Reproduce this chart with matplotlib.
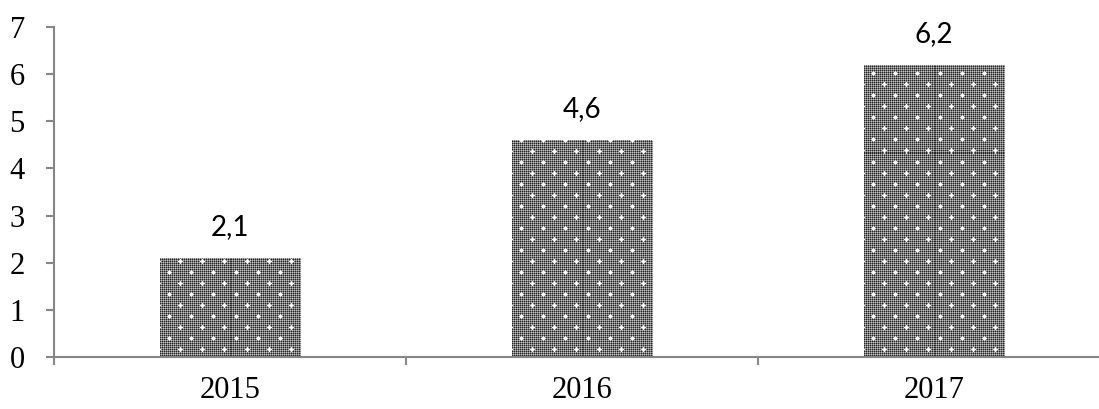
import matplotlib
matplotlib.use("Agg")
import matplotlib.pyplot as plt
import numpy as np

years = ["2015", "2016", "2017"]
values = [2.1, 4.6, 6.2]
value_labels = ["2,1", "4,6", "6,2"]
y_ticks = [0, 1, 2, 3, 4, 5, 6, 7]

axis_gray = "#868686"
W_PX, H_PX = 1099, 409
ax_left, ax_bottom, ax_w, ax_h = 54, 52, 1056, 330


def dotted_texture(h, w):
    """Fine dark/light checker with a staggered grid of small white stars."""
    r = np.arange(h)[:, None]
    c = np.arange(w)[None, :]
    tex = np.full((h, w), 0.48)
    tex[((r % 2) == 0) & ((c % 2) == 0)] = 0.15
    tex[((r % 2) == 1) & ((c % 2) == 1)] = 0.75
    step_r, step_c = 11, 22
    for row in range(3, h, step_r):
        shift = 0 if (row // step_r) % 2 == 0 else step_c // 2
        for col in range(5 + shift, w, step_c):
            for dr, dc, val in [(0, 0, 1.0), (-1, 0, 1.0), (1, 0, 1.0),
                                (0, -1, 1.0), (0, 1, 1.0),
                                (-2, 0, 0.92), (2, 0, 0.92),
                                (0, -2, 0.92), (0, 2, 0.92),
                                (-1, -1, 0.88), (-1, 1, 0.88),
                                (1, -1, 0.88), (1, 1, 0.88)]:
                rr, cc = row + dr, col + dc
                if 0 <= rr < h and 0 <= cc < w:
                    tex[rr, cc] = max(tex[rr, cc], val)
    return np.dstack([tex, tex, tex])


fig = plt.figure(figsize=(W_PX / 100, H_PX / 100), dpi=100)
ax = fig.add_axes([ax_left / W_PX, ax_bottom / H_PX, ax_w / W_PX, ax_h / H_PX])

x = np.arange(len(years))
xlim = (-0.5, len(years) - 0.5)
ylim = (0, 7)

bars = ax.bar(x, values, width=0.4, color="#666666", linewidth=0, zorder=2)

texture = dotted_texture(ax_h, ax_w)
for bar in bars:
    im = ax.imshow(texture, extent=(xlim[0], xlim[1], ylim[0], ylim[1]),
                   origin="upper", interpolation="nearest", aspect="auto",
                   zorder=3)
    im.set_clip_path(bar)

for xi, v, lab in zip(x, values, value_labels):
    ax.annotate(lab, (xi, v), xytext=(0, 13), textcoords="offset points",
                ha="center", va="bottom", fontsize=20, family="Lato",
                color="black")

ax.set_xlim(*xlim)
ax.set_ylim(*ylim)
ax.set_yticks(y_ticks)
ax.set_yticklabels([str(t) for t in y_ticks], family="Liberation Serif",
                   fontsize=22)
ax.set_xticks(x)
ax.set_xticklabels(years, family="Liberation Serif", fontsize=22)
ax.set_xticks(np.arange(-0.5, len(years) + 0.5, 1), minor=True)

ax.tick_params(axis="x", which="major", length=0, pad=14)
ax.tick_params(axis="x", which="minor", length=6, width=1.5,
               color=axis_gray, direction="out")
ax.tick_params(axis="y", length=6, width=1.5, color=axis_gray, pad=15)

for side in ["top", "right"]:
    ax.spines[side].set_visible(False)
for side in ["left", "bottom"]:
    ax.spines[side].set_color(axis_gray)
    ax.spines[side].set_linewidth(1.5)
    ax.spines[side].set_zorder(4)

fig.savefig("out.png", dpi=100)
